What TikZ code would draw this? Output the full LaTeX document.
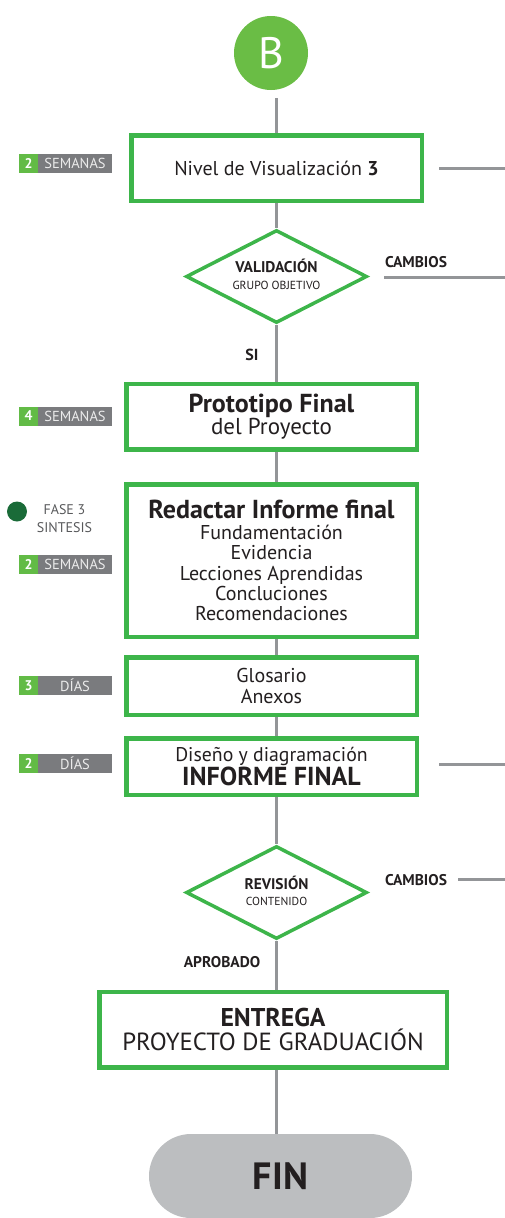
\documentclass[tikz,border=0pt]{standalone}
\usepackage{fontspec}
\setmainfont{PT Sans}
\usetikzlibrary{shapes.geometric,shapes.misc}
\definecolor{boxgreen}{HTML}{3DB54A}
\definecolor{bgreen}{HTML}{6ABD45}
\definecolor{labgreen}{HTML}{62BB46}
\definecolor{linegray}{HTML}{939598}
\definecolor{labgray}{HTML}{7A7B7E}
\definecolor{fingray}{HTML}{BCBEC0}
\definecolor{dkgreen}{HTML}{1A6B38}
\definecolor{txt}{HTML}{231F20}
\definecolor{softtxt}{HTML}{58595B}
\begin{document}
\begin{tikzpicture}[x=1pt,y=-1pt,
  box/.style={draw=boxgreen,line width=4.5pt,fill=white,inner sep=0pt,align=center,text=txt},
  conn/.style={draw=linegray,line width=3pt},
  dia/.style={diamond,draw=boxgreen,line width=3.5pt,inner sep=0pt,fill=white},
  numsq/.style={fill=labgreen,minimum width=19pt,minimum height=19pt,inner sep=0pt,text=white,font=\fontsize{14}{14}\selectfont\bfseries},
  durbox/.style={fill=labgray,minimum width=74pt,minimum height=19pt,inner sep=0pt,text=white!92!black,font=\fontsize{14.5}{14.5}\selectfont},
  sidelbl/.style={text=txt,font=\fontsize{15.5}{15.5}\selectfont\bfseries,inner sep=0pt},
  dlbl/.style={text=txt,align=center,inner sep=0pt}
]
\useasboundingbox (0,0) rectangle (505,1218);

% start circle
\node[circle,fill=bgreen,minimum size=74pt,inner sep=0pt,text=white,font=\fontsize{44}{44}\selectfont] (B) at (271,53) {B};
\coordinate (Bout) at (276,98);

% boxes
\node[box,minimum width=290.5pt,minimum height=65.5pt,font=\fontsize{20}{22}\selectfont] (b1) at (276.5,168) {Nivel de Visualización \textbf{3}};
\node[dia,minimum width=181pt,minimum height=93pt] (d1) at (276.5,276.5) {};
\node[dlbl,font=\fontsize{11.7}{17}\selectfont] (d1t) at (276.5,274.5) {{\fontsize{15.5}{17}\selectfont\bfseries VALIDACIÓN}\\GRUPO OBJETIVO};

\node[box,minimum width=290.5pt,minimum height=65.5pt,font=\fontsize{23}{22}\selectfont] (b2) at (271.5,416.5) {{\fontsize{26}{22}\selectfont\bfseries Prototipo Final}\\del Proyecto};

\node[box,minimum width=290.5pt,minimum height=152.5pt,font=\fontsize{20}{20.3}\selectfont] (b3) at (271.5,560.5)
 {{\fontsize{26}{24}\selectfont\bfseries Redactar Informe final}\\[1pt]
  Fundamentación\\Evidencia\\Lecciones Aprendidas\\Concluciones\\Recomendaciones};

\node[box,minimum width=290.5pt,minimum height=57.5pt,font=\fontsize{20}{21}\selectfont] (b4) at (271.5,686) {Glosario\\Anexos};

\node[box,minimum width=290.5pt,minimum height=56.5pt,font=\fontsize{19.8}{22}\selectfont] (b5) at (271.5,766.5) {Diseño y diagramación\\{\fontsize{26}{22}\selectfont\bfseries INFORME FINAL}};

\node[dia,minimum width=181pt,minimum height=93pt] (d2) at (276.5,892.5) {};
\node[dlbl,font=\fontsize{11.6}{16}\selectfont] (d2t) at (276.5,891) {{\fontsize{15.4}{16}\selectfont\bfseries REVISIÓN}\\CONTENIDO};

\node[box,minimum width=347.5pt,minimum height=75.5pt,font=\fontsize{24.8}{24}\selectfont] (b6) at (273,1029.5) {{\fontsize{25.7}{24}\selectfont\bfseries ENTREGA}\\PROYECTO DE GRADUACIÓN};

\node[rounded rectangle,fill=fingray,minimum width=263pt,minimum height=84pt,inner sep=0pt,text=txt,font=\fontsize{38}{38}\selectfont\bfseries] (fin) at (280.5,1176) {FIN};

% spine connectors
\draw[conn] (Bout) -- (b1.north -| Bout);
\draw[conn] (b1.south -| d1.north) -- (d1.north);
\draw[conn] (d1.south) -- (b2.north -| d1.south);
\draw[conn] (b2.south -| d1.south) -- (b3.north -| d1.south);
\draw[conn] (b3.south -| d1.south) -- (b4.north -| d1.south);
\draw[conn] (b4.south -| d1.south) -- (b5.north -| d1.south);
\draw[conn] (b5.south -| d2.north) -- (d2.north);
\draw[conn] (d2.south) -- (b6.north -| d2.south);
\draw[conn] (b6.south -| d2.south) -- (fin.north -| d2.south);

% side exits
\coordinate (r1a) at (439,168); \coordinate (r1b) at (505,168);
\draw[conn] (r1a) -- (r1b);
\coordinate (r2a) at (384,277); \coordinate (r2b) at (505,277);
\draw[conn] (r2a) -- (r2b);
\coordinate (r3a) at (439,764); \coordinate (r3b) at (505,764);
\draw[conn] (r3a) -- (r3b);
\coordinate (r4a) at (458,879); \coordinate (r4b) at (505,879);
\draw[conn] (r4a) -- (r4b);

\node[sidelbl] (c1) at (416,262) {CAMBIOS};
\node[sidelbl] (c2) at (416,880) {CAMBIOS};
\node[sidelbl,font=\fontsize{16}{16}\selectfont\bfseries] (si) at (252,355) {SI};
\node[sidelbl] (apr) at (222,962) {APROBADO};

% duration tags
\node[numsq] (n1) at (28.5,163.5) {2};
\node[durbox] (t1) at (75,163.5) {SEMANAS};
\node[numsq] (n2) at (28.5,416) {4};
\node[durbox] (t2) at (75,416) {SEMANAS};
\node[numsq] (n3) at (28.5,564) {2};
\node[durbox] (t3) at (75,564) {SEMANAS};
\node[numsq] (n4) at (28.5,685.5) {3};
\node[durbox] (t4) at (75,685.5) {DÍAS};
\node[numsq] (n5) at (28.5,763.5) {2};
\node[durbox] (t5) at (75,763.5) {DÍAS};

% phase marker
\node[circle,fill=dkgreen,minimum size=20pt,inner sep=0pt] (ph) at (17,511.5) {};
\node[text=softtxt,align=center,inner sep=0pt,font=\fontsize{14}{18.5}\selectfont] (pht) at (64.5,518.5) {FASE 3\\SINTESIS};
\end{tikzpicture}
\end{document}
